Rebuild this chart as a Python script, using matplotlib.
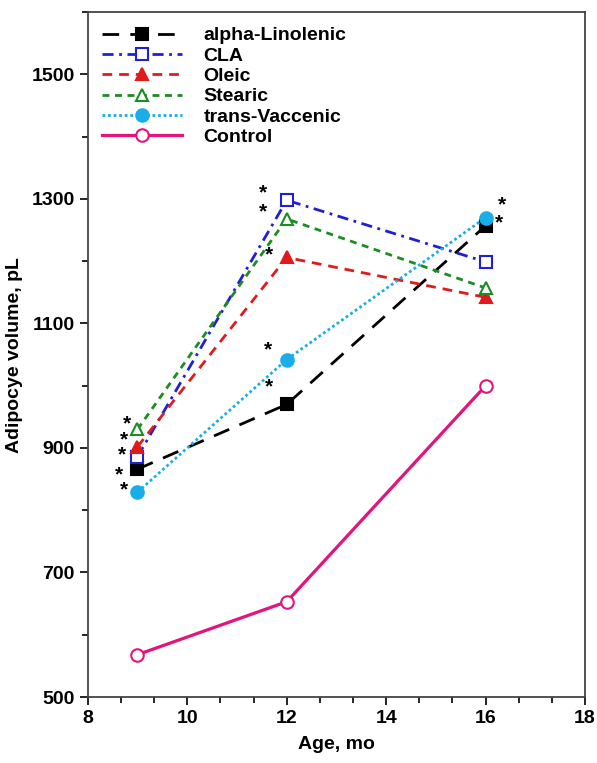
import matplotlib
matplotlib.use("Agg")
import matplotlib.pyplot as plt
from matplotlib.ticker import AutoMinorLocator

plt.rcParams['font.family'] = ['Liberation Sans', 'DejaVu Sans']
plt.rcParams['font.weight'] = 'bold'

age = [9, 12, 16]
alpha_lin = [866, 970, 1257]
cla = [886, 1298, 1199]
oleic = [902, 1206, 1142]
stearic = [930, 1268, 1157]
trans_vac = [829, 1042, 1270]
control = [568, 653, 1000]

y_major = [500, 700, 900, 1100, 1300, 1500]
y_minor = [600, 800, 1000, 1200, 1400, 1600]

# significance asterisks (x, y in data units)
star_x = [8.78, 8.72, 8.68, 8.62, 8.72, 11.52, 11.52, 11.64, 11.62, 11.64, 16.32, 16.26]
star_y = [939, 913, 889, 857, 833, 1310, 1279, 1210, 1057, 998, 1290, 1261]

series = [
    ("alpha-Linolenic", alpha_lin, dict(color='black', ls=(0, (6, 4)), marker='s', mfc='black', ms=8, lw=2)),
    ("CLA", cla, dict(color='#1f1fd6', ls=(0, (4, 2, 1, 2)), marker='s', mfc='white', ms=9, lw=2)),
    ("Oleic", oleic, dict(color='#e01b1b', ls=(0, (3.5, 2.5)), marker='^', mfc='#e01b1b', ms=8, lw=2)),
    ("Stearic", stearic, dict(color='#1c8c24', ls=(0, (2.5, 2)), marker='^', mfc='white', ms=9, lw=2)),
    ("trans-Vaccenic", trans_vac, dict(color='#1aaee8', ls=(0, (1, 1)), marker='o', mfc='#1aaee8', ms=9, lw=2)),
    ("Control", control, dict(color='#e3147c', ls='-', marker='o', mfc='white', ms=9, lw=2.3)),
]

fig = plt.figure(figsize=(5.97, 7.63), dpi=100)
ax = fig.add_axes([0.147, 0.0865, 0.833, 0.8975])

for name, vals, st in series:
    ax.plot(age, vals, label=name, mew=1.5, mec=st['color'], **st)

for sx, sy in zip(star_x, star_y):
    ax.text(sx, sy, '*', fontsize=15, ha='center', va='center', color='black')

ax.set_xlim(8, 18)
ax.set_ylim(500, 1600)
ax.set_xticks([8, 10, 12, 14, 16, 18])
ax.xaxis.set_minor_locator(AutoMinorLocator(3))
ax.set_yticks(y_major)
ax.set_yticks(y_minor, minor=True)
ax.tick_params(which='major', length=6, width=1.2, labelsize=14)
ax.tick_params(which='minor', length=4, width=1.2)
for s in ax.spines.values():
    s.set_linewidth(1.3)
    s.set_color('#444444')

ax.set_xlabel("Age, mo", fontsize=14, fontweight='bold', labelpad=6)
ax.set_ylabel("Adipocye volume, pL", fontsize=14, fontweight='bold', labelpad=6)

ax.legend(loc='upper left', frameon=False, fontsize=14, handlelength=4.1,
          labelspacing=0.14, borderaxespad=0.45, handletextpad=1.1,
          borderpad=0.3)

fig.savefig("out.png", dpi=100)
